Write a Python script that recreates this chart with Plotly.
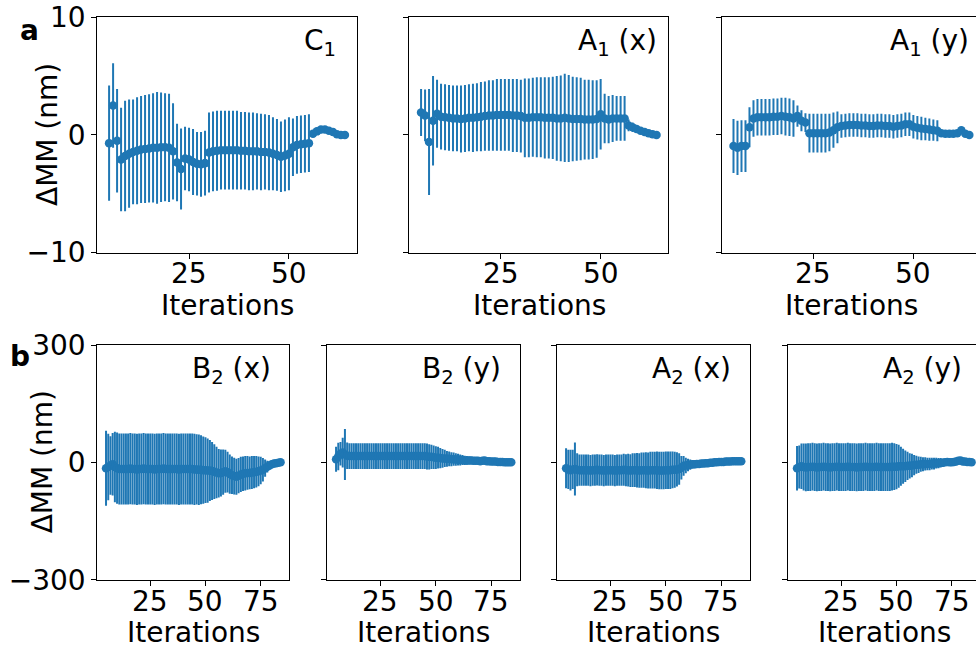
import plotly.graph_objects as go

W, H = 976, 653

# ---------------- data ----------------
iters_top = list(range(5, 65))
iters_bot = list(range(5, 85))

top_xticks = [25, 50]
top_xticktext = ["25", "50"]
bot_xticks = [25, 50, 75]
bot_xticktext = ["25", "50", "75"]
top_yticks = [-10, 0, 10]
top_yticktext = ["\u221210", "0", "10"]
bot_yticks = [-300, 0, 300]
bot_yticktext = ["\u2212300", "0", "300"]

c1_val = [-0.7, 2.5, -0.5, -2.1, -1.8, -1.6, -1.45, -1.35, -1.25, -1.2,
          -1.15, -1.1, -1.1, -1.05, -1.05, -1.1, -1.4, -2.35, -2.9, -2.0,
          -2.1, -2.3, -2.45, -2.5, -2.4, -1.5, -1.4, -1.35, -1.3, -1.3,
          -1.3, -1.3, -1.3, -1.35, -1.35, -1.4, -1.4, -1.4, -1.45, -1.45,
          -1.5, -1.6, -1.7, -1.85, -1.75, -1.6, -1.05, -0.85, -0.8, -0.75,
          -0.7, 0.1, 0.3, 0.45, 0.45, 0.35, 0.25, 0.05, 0.0, 0.0]
c1_err = [4.9, 3.6, 4.4, 4.4, 4.7, 4.6, 4.45, 4.55, 4.55, 4.6,
          4.6, 4.65, 4.75, 4.65, 4.6, 4.6, 4.1, 3.3, 3.45, 2.7,
          2.7, 2.8, 2.7, 2.75, 2.75, 3.4, 3.4, 3.4, 3.35, 3.35,
          3.35, 3.35, 3.35, 3.3, 3.3, 3.3, 3.3, 3.25, 3.25, 3.2,
          3.2, 3.1, 3.05, 3.0, 3.05, 3.1, 2.45, 2.45, 2.45, 2.45,
          2.45, 0.3, 0.3, 0.3, 0.25, 0.2, 0.2, 0.15, 0.1, 0.05]

a1x_val = [1.9, 1.65, -0.6, 1.2, 1.8, 1.55, 1.5, 1.45, 1.4, 1.4,
           1.35, 1.4, 1.45, 1.45, 1.5, 1.55, 1.6, 1.65, 1.65, 1.7,
           1.7, 1.7, 1.7, 1.65, 1.65, 1.6, 1.45, 1.45, 1.5, 1.5,
           1.5, 1.45, 1.45, 1.45, 1.4, 1.4, 1.45, 1.4, 1.35, 1.35,
           1.35, 1.3, 1.3, 1.3, 1.35, 1.75, 1.4, 1.3, 1.4, 1.4,
           1.4, 1.4, 0.8, 0.65, 0.5, 0.35, 0.25, 0.15, 0.05, 0.0]
a1x_err = [2.0, 2.2, 4.5, 3.8, 2.9, 2.8, 2.8, 2.8, 2.8, 2.8,
           2.85, 2.85, 2.85, 2.9, 2.9, 2.95, 2.95, 3.0, 3.0, 3.05,
           3.05, 3.05, 3.05, 3.1, 3.1, 3.1, 3.35, 3.35, 3.35, 3.4,
           3.4, 3.45, 3.45, 3.5, 3.6, 3.65, 3.75, 3.7, 3.6, 3.55,
           3.5, 3.4, 3.4, 3.35, 3.3, 3.0, 2.1, 2.0, 2.0, 1.9,
           1.9, 1.9, 0.5, 0.4, 0.3, 0.2, 0.15, 0.1, 0.05, 0.02]

a1y_val = [-0.95, -1.1, -0.95, -0.95, 0.65, 1.4, 1.5, 1.5, 1.5, 1.5,
           1.55, 1.55, 1.6, 1.55, 1.5, 1.4, 1.6, 1.2, 1.05, 0.15,
           0.15, 0.15, 0.15, 0.15, 0.2, 0.4, 0.65, 0.75, 0.8, 0.85,
           0.85, 0.85, 0.8, 0.8, 0.75, 0.75, 0.8, 0.8, 0.75, 0.75,
           0.7, 0.75, 0.8, 0.9, 0.9, 0.7, 0.6, 0.55, 0.5, 0.45,
           0.4, 0.35, 0.15, 0.1, 0.1, 0.1, 0.15, 0.4, 0.1, 0.0]
a1y_err = [2.3, 2.3, 2.2, 2.2, 1.7, 1.55, 1.55, 1.55, 1.55, 1.55,
           1.55, 1.55, 1.55, 1.6, 1.6, 1.55, 0.9, 0.9, 0.8, 1.65,
           1.65, 1.65, 1.65, 1.65, 1.6, 1.5, 1.35, 1.0, 1.0, 1.0,
           1.0, 1.0, 1.0, 1.0, 1.0, 1.0, 1.0, 1.0, 1.0, 1.0,
           1.0, 1.0, 1.0, 1.0, 1.0, 1.0, 1.0, 1.0, 0.95, 0.95,
           0.9, 0.9, 0.2, 0.15, 0.15, 0.15, 0.15, 0.1, 0.1, 0.05]

b2x_val = [-15, -12, -8, -5, -12, -15, -17, -17, -17, -17,
           -17, -16, -17, -17, -18, -17, -17, -16, -17, -17,
           -17, -17, -18, -17, -17, -17, -16, -17, -17, -17,
           -17, -17, -17, -18, -17, -17, -17, -17, -17, -17,
           -18, -18, -19, -19, -20, -20, -21, -21, -22, -24,
           -26, -28, -27, -25, -23, -25, -30, -33, -35, -37,
           -34, -31, -29, -28, -27, -27, -26, -25, -24, -23,
           -21, -19, -15, -11, -8, -5, -3, -2, -1, 0]
b2x_err = [96, 85, 75, 80, 90, 91, 91, 91, 91, 91,
           91, 91, 91, 91, 91, 91, 91, 91, 91, 91,
           91, 91, 91, 91, 91, 91, 91, 91, 91, 91,
           91, 91, 91, 91, 91, 91, 91, 91, 91, 91,
           91, 90, 90, 88, 86, 84, 82, 78, 74, 70,
           66, 62, 60, 58, 55, 52, 50, 48, 47, 46,
           45, 45, 44, 44, 43, 42, 42, 41, 40, 38,
           35, 30, 22, 15, 10, 7, 5, 4, 3, 2]

b2y_val = [8, 15, 22, 25, 20, 17, 16, 16, 16, 16,
           16, 16, 16, 16, 16, 16, 16, 16, 16, 16,
           16, 16, 16, 16, 16, 16, 16, 16, 16, 16,
           16, 16, 16, 16, 16, 16, 16, 16, 16, 16,
           16, 15, 14, 14, 13, 12, 12, 11, 10, 10,
           9, 9, 8, 8, 7, 7, 6, 6, 5, 5,
           5, 5, 4, 4, 4, 3, 4, 5, 3, 3,
           2, 2, 2, 1, 1, 1, 0, 0, 0, 0]
b2y_err = [32, 35, 30, 38, 65, 34, 33, 33, 33, 33,
           33, 33, 33, 33, 33, 33, 33, 33, 33, 33,
           33, 33, 33, 33, 33, 33, 33, 33, 33, 33,
           33, 33, 33, 33, 33, 33, 33, 33, 33, 33,
           33, 33, 32, 31, 30, 29, 28, 26, 24, 22,
           20, 19, 18, 17, 16, 15, 14, 13, 12, 11,
           10, 9, 8, 7, 7, 6, 6, 5, 5, 4,
           4, 3, 3, 2, 2, 2, 1, 1, 1, 1]

a2x_val = [-15, -18, -20, -18, -17, -19, -20, -20, -20, -20,
           -20, -21, -20, -20, -19, -20, -20, -21, -20, -20,
           -20, -20, -21, -20, -20, -20, -19, -20, -20, -21,
           -20, -20, -20, -21, -20, -20, -20, -21, -20, -20,
           -20, -20, -21, -21, -21, -20, -20, -20, -19, -19,
           -18, -17, -14, -9, -8, -7, -6, -5, -5, -4,
           -4, -3, -3, -2, -2, -1, -1, 0, 0, 1,
           1, 1, 2, 2, 2, 3, 3, 3, 3, 3]
a2x_err = [51, 50, 52, 50, 68, 42, 40, 40, 40, 40,
           40, 40, 40, 40, 40, 40, 40, 40, 40, 40,
           40, 40, 40, 40, 40, 40, 41, 41, 42, 42,
           43, 43, 44, 44, 45, 45, 46, 46, 47, 47,
           47, 48, 48, 48, 48, 48, 48, 48, 47, 46,
           44, 40, 30, 25, 20, 16, 13, 11, 10, 9,
           8, 8, 7, 7, 6, 6, 5, 5, 5, 4,
           4, 4, 3, 3, 3, 3, 2, 2, 2, 2]

a2y_val = [-15, -12, -10, -12, -13, -12, -12, -11, -12, -13,
           -12, -12, -11, -12, -12, -13, -12, -12, -11, -12,
           -12, -12, -12, -11, -12, -12, -12, -13, -12, -12,
           -12, -11, -12, -12, -12, -12, -11, -12, -12, -12,
           -12, -12, -12, -11, -11, -11, -10, -10, -10, -10,
           -9, -9, -8, -7, -6, -6, -5, -5, -4, -4,
           -4, -3, -3, -2, -2, -1, -1, 0, 1, 0,
           0, 1, 2, 4, 5, 2, 2, 1, 1, 0]
a2y_err = [57, 55, 58, 60, 61, 61, 61, 61, 61, 61,
           61, 61, 61, 61, 61, 61, 61, 61, 61, 61,
           61, 61, 61, 61, 61, 61, 61, 61, 61, 61,
           61, 61, 61, 61, 61, 61, 61, 61, 61, 61,
           61, 61, 61, 61, 60, 58, 55, 50, 45, 40,
           36, 32, 30, 26, 23, 21, 19, 18, 17, 16,
           16, 15, 15, 14, 13, 12, 10, 9, 8, 7,
           7, 6, 6, 5, 5, 4, 4, 3, 3, 2]

# ---------------- layout helpers ----------------
BLUE = "#1f77b4"
FONT = "DejaVu Sans"
FS = 28


def px(x):
    return x / W


def py(y):
    return 1 - y / H


TOP_Y = (17.3, 252.5)
BOT_Y = (345.0, 579.7)

panels = [
    # label, x, y, err, row, (left,right px), range, title right px, clipped
    ("C<sub>1</sub>", iters_top, c1_val, c1_err, "top", (97.3, 356.7), (2.05, 66.95), 338, False),
    ("A<sub>1</sub> (x)", iters_top, a1x_val, a1x_err, "top", (409.3, 668.3), (2.05, 66.95), 659, False),
    ("A<sub>1</sub> (y)", iters_top, a1y_val, a1y_err, "top", (721.7, 976.0), (2.05, 65.67), 971, True),
    ("B<sub>2</sub> (x)", iters_bot, b2x_val, b2x_err, "bot", (97.3, 289.3), (1.05, 87.95), 273, False),
    ("B<sub>2</sub> (y)", iters_bot, b2y_val, b2y_err, "bot", (327.3, 520.0), (1.05, 87.95), 503, False),
    ("A<sub>2</sub> (x)", iters_bot, a2x_val, a2x_err, "bot", (557.3, 750.0), (1.05, 87.95), 733, False),
    ("A<sub>2</sub> (y)", iters_bot, a2y_val, a2y_err, "bot", (788.3, 976.0), (1.05, 86.0), 964, True),
]

fig = go.Figure()
annotations = []
axis_common = dict(
    showline=True, linecolor="black", linewidth=1.1,
    ticks="outside", ticklen=5, tickwidth=1.1, tickcolor="black",
    showgrid=False, zeroline=False, automargin=False,
    tickfont=dict(family=FONT, size=FS, color="black"),
)
txt_font = dict(family=FONT, size=FS, color="black")

for k, (label, xs, ys, es, row, (l, r), rng, tr, clipped) in enumerate(panels):
    n = k + 1
    xa = "x" if n == 1 else f"x{n}"
    ya = "y" if n == 1 else f"y{n}"
    xkey = "xaxis" if n == 1 else f"xaxis{n}"
    ykey = "yaxis" if n == 1 else f"yaxis{n}"
    ytop, ybot = TOP_Y if row == "top" else BOT_Y
    fig.add_trace(go.Scatter(
        x=xs, y=ys, mode="markers", xaxis=xa, yaxis=ya,
        marker=dict(color=BLUE, size=8.5, line=dict(width=0)),
        error_y=dict(type="data", array=es, visible=True, thickness=2,
                     width=0, color=BLUE),
        showlegend=False, hoverinfo="x+y",
    ))
    first = k in (0, 3)
    xt = top_xticks if row == "top" else bot_xticks
    xtt = top_xticktext if row == "top" else bot_xticktext
    fig.layout[xkey] = dict(
        axis_common, domain=[px(l), px(r)], range=list(rng), anchor=ya,
        mirror=True, tickvals=xt, showticklabels=False,
    )
    fig.layout[ykey] = dict(
        axis_common, domain=[py(ybot), py(ytop)], anchor=xa,
        range=[-10, 10] if row == "top" else [-300, 300],
        mirror=not clipped,
        tickvals=top_yticks if row == "top" else bot_yticks,
        ticktext=top_yticktext if row == "top" else bot_yticktext,
        showticklabels=first,
    )
    # x tick labels (placed at the axis' data positions)
    ty = 273.0 if row == "top" else 601.0
    for tv, tt in zip(xt, xtt):
        annotations.append(dict(
            text=tt, xref=xa, yref="paper", x=tv, y=py(ty),
            xanchor="center", yanchor="middle", showarrow=False, font=txt_font,
        ))
    # panel title inside axes
    base = 51.7 if row == "top" else 380.0
    annotations.append(dict(
        text=label, xref="paper", yref="paper", x=px(tr), y=py(base - 9.5),
        xanchor="right", yanchor="middle", showarrow=False, font=txt_font,
    ))
    # x axis title
    full_w = 259.4 if row == "top" else 192.0
    cx = l + full_w / 2
    tb = 315.0 if row == "top" else 641.7
    annotations.append(dict(
        text="Iterations", xref="paper", yref="paper", x=px(cx), y=py(tb - 9.5),
        xanchor="center", yanchor="middle", showarrow=False, font=txt_font,
    ))

# y axis titles
for cx, cy in ((47.0, 135.0), (42.0, 462.3)):
    annotations.append(dict(
        text="\u0394MM (nm)", xref="paper", yref="paper", x=px(cx), y=py(cy),
        xanchor="center", yanchor="middle", textangle=-90, showarrow=False,
        font=txt_font,
    ))

# panel letters
for t, cx, cy in (("a", 29.0, 30.0), ("b", 20.0, 357.0)):
    annotations.append(dict(
        text=f"<b>{t}</b>", xref="paper", yref="paper", x=px(cx), y=py(cy),
        xanchor="center", yanchor="middle", showarrow=False, font=txt_font,
    ))

fig.update_layout(
    template="none",
    width=W, height=H, margin=dict(l=0, r=0, t=0, b=0, pad=0),
    paper_bgcolor="white", plot_bgcolor="white",
    annotations=annotations,
)

fig.write_html("out.html")
